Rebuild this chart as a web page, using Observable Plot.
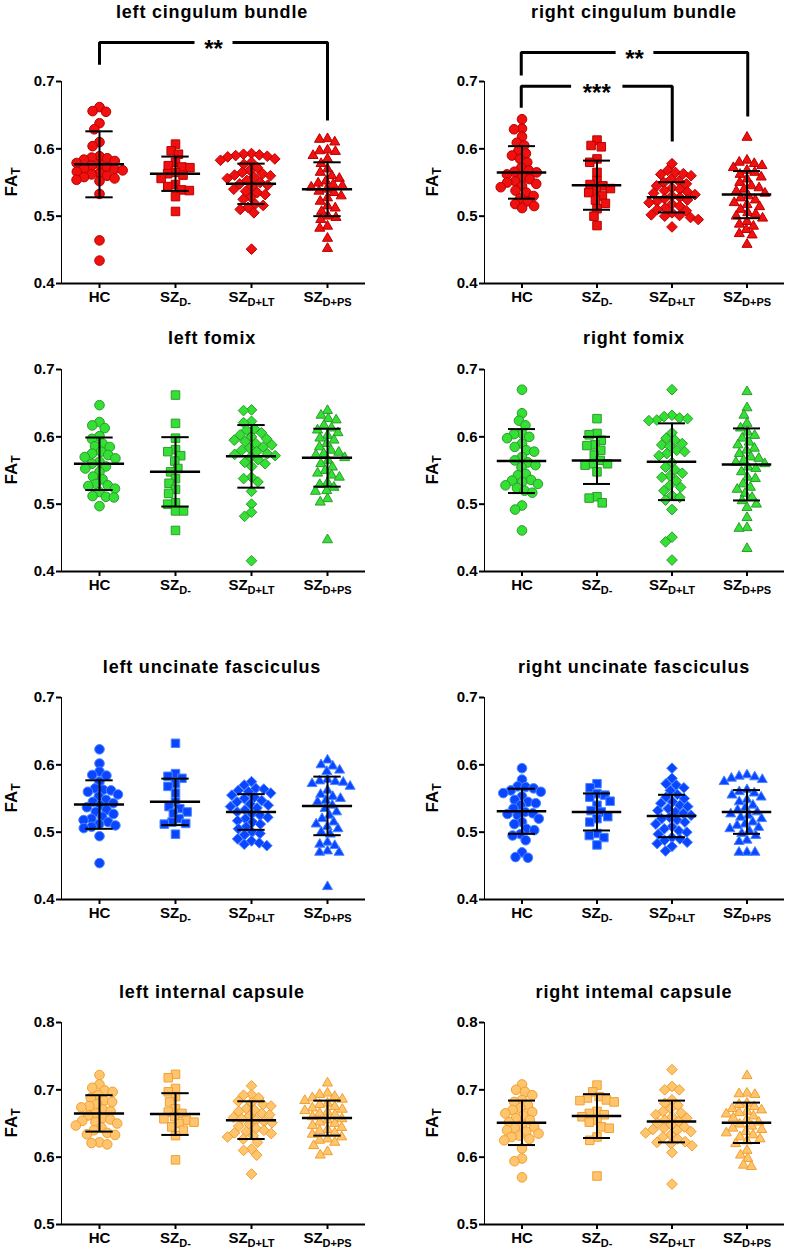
<!DOCTYPE html>
<html><head><meta charset="utf-8">
<script src="https://cdn.jsdelivr.net/npm/d3@7"></script>
<script src="https://cdn.jsdelivr.net/npm/@observablehq/plot@0.6"></script>
<style>
body{margin:0;background:#fff;font-family:"Liberation Sans",Arial,Helvetica,sans-serif;}
#root{position:relative;width:790px;height:1252px;overflow:hidden;background:#fff;}
.title{position:absolute;font-weight:bold;font-size:18px;letter-spacing:0.8px;transform:translate(-50%,-50%);white-space:nowrap;color:#000;}
.ylab{position:absolute;font-weight:bold;font-size:17px;transform:translate(-50%,-50%) rotate(-90deg);white-space:nowrap;color:#000;}
.ylab sub{font-size:12px;vertical-align:-3px;}
.panel{position:absolute;}
.panel svg{position:absolute;left:0;top:0;overflow:visible;}
.panel g[aria-label*="axis"] path,.panel g[aria-label*="axis"] line{stroke-width:2px;}
</style></head><body><div id="root"></div>
<script>
// ---------- categories / labels ----------
const groups = ["HC", "SZD-", "SZD+LT", "SZD+PS"];
const groupBase = ["HC", "SZ", "SZ", "SZ"];
const groupSub = ["", "D-", "D+LT", "D+PS"];
const titles = ["left cingulum bundle", "right cingulum bundle", "left fomix", "right fomix",
  "left uncinate fasciculus", "right uncinate fasciculus", "left internal capsule", "right intemal capsule"];
const yTicksFA = [0.4, 0.5, 0.6, 0.7];
const yTicksIC = [0.5, 0.6, 0.7, 0.8];

// ---------- values (HC, SZD-, SZD+LT, SZD+PS) ----------
const leftCingulum = [
  [0.662,0.656,0.655,0.638,0.629,0.610,0.604,0.589,0.587,0.586,0.584,0.582,0.579,0.577,0.575,0.573,0.571,0.570,0.568,0.566,0.564,0.562,0.560,0.558,0.556,0.554,0.552,0.533,0.464,0.434],
  [0.607,0.597,0.592,0.580,0.575,0.573,0.572,0.565,0.563,0.561,0.556,0.547,0.544,0.539,0.538,0.529,0.507],
  [0.593,0.592,0.591,0.590,0.589,0.588,0.585,0.583,0.580,0.577,0.572,0.568,0.565,0.563,0.561,0.560,0.558,0.556,0.553,0.550,0.548,0.546,0.544,0.540,0.537,0.535,0.532,0.528,0.525,0.518,0.516,0.513,0.510,0.505,0.451],
  [0.615,0.614,0.610,0.598,0.597,0.596,0.590,0.585,0.578,0.570,0.565,0.560,0.556,0.552,0.549,0.547,0.545,0.543,0.540,0.537,0.535,0.530,0.527,0.522,0.515,0.512,0.507,0.500,0.498,0.495,0.485,0.482,0.467,0.452]
];
const leftCingulumMean = [0.577, 0.563, 0.548, 0.540];
const leftCingulumSD = [0.049, 0.0255, 0.030, 0.040];

const rightCingulum = [
  [0.644,0.630,0.629,0.618,0.609,0.605,0.597,0.593,0.590,0.585,0.580,0.572,0.568,0.566,0.565,0.562,0.558,0.555,0.552,0.550,0.548,0.545,0.543,0.538,0.535,0.530,0.527,0.522,0.518,0.515,0.512],
  [0.613,0.605,0.603,0.585,0.580,0.565,0.553,0.547,0.545,0.541,0.538,0.535,0.530,0.524,0.519,0.511,0.500,0.486],
  [0.578,0.568,0.565,0.563,0.562,0.560,0.555,0.552,0.550,0.548,0.545,0.542,0.540,0.538,0.536,0.534,0.532,0.530,0.528,0.526,0.524,0.522,0.520,0.518,0.515,0.512,0.510,0.508,0.505,0.502,0.501,0.500,0.498,0.495,0.484],
  [0.617,0.583,0.580,0.578,0.575,0.572,0.568,0.565,0.562,0.558,0.555,0.550,0.545,0.542,0.540,0.537,0.534,0.530,0.527,0.524,0.520,0.517,0.514,0.510,0.505,0.503,0.500,0.497,0.492,0.488,0.485,0.480,0.474,0.472,0.458]
];
const rightCingulumMean = [0.565, 0.546, 0.528, 0.532];
const rightCingulumSD = [0.039, 0.0365, 0.0225, 0.035];

const leftFornix = [
  [0.647,0.622,0.617,0.613,0.601,0.597,0.590,0.586,0.585,0.578,0.575,0.573,0.570,0.568,0.563,0.560,0.556,0.553,0.548,0.541,0.537,0.530,0.528,0.527,0.523,0.518,0.512,0.511,0.510,0.497],
  [0.662,0.620,0.598,0.581,0.578,0.572,0.564,0.553,0.548,0.538,0.531,0.522,0.516,0.502,0.500,0.490,0.490,0.461],
  [0.640,0.639,0.623,0.621,0.612,0.610,0.606,0.603,0.600,0.597,0.595,0.593,0.590,0.588,0.585,0.583,0.580,0.578,0.575,0.574,0.572,0.570,0.566,0.562,0.560,0.556,0.540,0.538,0.533,0.519,0.500,0.488,0.482,0.416],
  [0.639,0.632,0.627,0.625,0.617,0.613,0.610,0.606,0.602,0.598,0.595,0.590,0.585,0.580,0.577,0.575,0.573,0.569,0.565,0.560,0.555,0.550,0.546,0.543,0.540,0.532,0.529,0.525,0.520,0.519,0.508,0.503,0.447]
];
const leftFornixMean = [0.560, 0.548, 0.571, 0.569];
const leftFornixSD = [0.039, 0.0515, 0.0465, 0.043];

const rightFornix = [
  [0.670,0.635,0.624,0.617,0.605,0.604,0.600,0.598,0.590,0.585,0.580,0.578,0.570,0.565,0.562,0.558,0.555,0.545,0.543,0.536,0.535,0.533,0.530,0.528,0.524,0.520,0.517,0.498,0.492,0.461],
  [0.627,0.605,0.603,0.595,0.588,0.587,0.580,0.573,0.565,0.560,0.560,0.558,0.548,0.511,0.509,0.502],
  [0.670,0.632,0.630,0.628,0.627,0.625,0.624,0.606,0.598,0.595,0.590,0.588,0.586,0.580,0.578,0.575,0.572,0.562,0.555,0.551,0.546,0.542,0.540,0.535,0.528,0.525,0.520,0.513,0.510,0.506,0.492,0.451,0.444,0.417],
  [0.667,0.643,0.632,0.620,0.613,0.607,0.602,0.598,0.592,0.588,0.583,0.580,0.575,0.570,0.568,0.565,0.562,0.560,0.555,0.553,0.548,0.540,0.538,0.530,0.525,0.522,0.516,0.510,0.505,0.500,0.495,0.480,0.465,0.464,0.434]
];
const rightFornixMean = [0.564, 0.565, 0.563, 0.559];
const rightFornixSD = [0.0475, 0.035, 0.057, 0.0535];

const leftUncinate = [
  [0.623,0.602,0.590,0.585,0.584,0.575,0.565,0.563,0.562,0.560,0.556,0.553,0.548,0.545,0.543,0.540,0.537,0.533,0.530,0.527,0.523,0.520,0.518,0.515,0.512,0.510,0.508,0.506,0.494,0.454],
  [0.632,0.587,0.583,0.580,0.572,0.568,0.558,0.545,0.538,0.535,0.530,0.528,0.520,0.515,0.513,0.512,0.497],
  [0.575,0.570,0.565,0.564,0.562,0.560,0.558,0.555,0.552,0.550,0.547,0.545,0.542,0.540,0.538,0.536,0.533,0.530,0.527,0.525,0.522,0.520,0.517,0.515,0.512,0.508,0.505,0.500,0.498,0.496,0.490,0.487,0.484,0.482,0.480],
  [0.607,0.600,0.598,0.592,0.590,0.578,0.576,0.575,0.574,0.572,0.568,0.562,0.556,0.553,0.550,0.547,0.545,0.540,0.535,0.530,0.525,0.520,0.515,0.512,0.508,0.505,0.500,0.497,0.485,0.482,0.480,0.472,0.470,0.470,0.419]
];
const leftUncinateMean = [0.541, 0.545, 0.530, 0.539];
const leftUncinateSD = [0.036, 0.0345, 0.0265, 0.0435];

const rightUncinate = [
  [0.595,0.578,0.568,0.567,0.565,0.562,0.560,0.558,0.553,0.548,0.545,0.543,0.540,0.535,0.530,0.528,0.527,0.525,0.520,0.515,0.512,0.505,0.503,0.497,0.495,0.488,0.470,0.463,0.462],
  [0.572,0.566,0.557,0.555,0.552,0.546,0.540,0.532,0.530,0.523,0.520,0.515,0.498,0.495,0.492,0.481],
  [0.595,0.580,0.572,0.570,0.566,0.562,0.556,0.552,0.550,0.545,0.543,0.540,0.538,0.535,0.532,0.530,0.528,0.525,0.522,0.520,0.518,0.515,0.512,0.508,0.505,0.502,0.500,0.497,0.492,0.490,0.488,0.485,0.483,0.479,0.472],
  [0.585,0.583,0.582,0.580,0.578,0.575,0.563,0.560,0.558,0.555,0.552,0.548,0.545,0.540,0.536,0.533,0.530,0.527,0.525,0.522,0.520,0.515,0.512,0.510,0.507,0.505,0.502,0.498,0.495,0.488,0.486,0.470,0.470,0.470]
];
const rightUncinateMean = [0.531, 0.530, 0.524, 0.530];
const rightUncinateSD = [0.0335, 0.0275, 0.0315, 0.0325];

const leftCapsule = [
  [0.722,0.708,0.703,0.699,0.697,0.692,0.688,0.684,0.682,0.679,0.676,0.674,0.671,0.668,0.665,0.662,0.658,0.656,0.654,0.652,0.650,0.647,0.644,0.640,0.636,0.634,0.633,0.622,0.621,0.619],
  [0.723,0.718,0.702,0.697,0.690,0.682,0.672,0.667,0.665,0.660,0.657,0.655,0.652,0.650,0.645,0.640,0.632,0.596],
  [0.706,0.693,0.692,0.688,0.683,0.681,0.678,0.676,0.672,0.670,0.668,0.665,0.663,0.661,0.659,0.657,0.655,0.653,0.651,0.649,0.646,0.643,0.640,0.638,0.636,0.635,0.632,0.630,0.627,0.622,0.612,0.610,0.603,0.575],
  [0.710,0.695,0.693,0.690,0.688,0.686,0.684,0.680,0.678,0.675,0.673,0.671,0.669,0.667,0.665,0.663,0.660,0.657,0.655,0.652,0.650,0.647,0.644,0.641,0.639,0.636,0.634,0.630,0.627,0.625,0.622,0.617,0.608,0.603]
];
const leftCapsuleMean = [0.665, 0.664, 0.655, 0.658];
const leftCapsuleSD = [0.027, 0.031, 0.028, 0.026];

const rightCapsule = [
  [0.708,0.700,0.697,0.692,0.685,0.682,0.677,0.673,0.670,0.667,0.665,0.662,0.658,0.655,0.652,0.648,0.645,0.643,0.640,0.638,0.635,0.632,0.630,0.627,0.625,0.613,0.598,0.594,0.570],
  [0.707,0.697,0.690,0.688,0.685,0.684,0.682,0.668,0.665,0.663,0.660,0.655,0.652,0.645,0.643,0.630,0.625,0.572],
  [0.730,0.705,0.700,0.700,0.685,0.680,0.677,0.672,0.668,0.666,0.663,0.660,0.658,0.655,0.653,0.651,0.648,0.645,0.643,0.641,0.640,0.638,0.636,0.633,0.630,0.627,0.623,0.622,0.620,0.617,0.607,0.560],
  [0.721,0.695,0.694,0.693,0.680,0.678,0.675,0.672,0.670,0.668,0.666,0.664,0.661,0.658,0.655,0.652,0.649,0.646,0.643,0.641,0.638,0.636,0.633,0.630,0.627,0.624,0.620,0.610,0.603,0.598,0.588,0.586]
];
const rightCapsuleMean = [0.651, 0.661, 0.653, 0.651];
const rightCapsuleSD = [0.033, 0.0325, 0.031, 0.030];

// ---------- significance brackets ----------
const leftCingulumBrackets = [
  {from: "HC", to: "SZD+PS", level: 0.758, fromEnd: 0.725, toEnd: 0.642, label: "**"}
];
const rightCingulumBrackets = [
  {from: "HC", to: "SZD+PS", level: 0.743, fromEnd: 0.709, toEnd: 0.648, label: "**"},
  {from: "HC", to: "SZD+LT", level: 0.693, fromEnd: 0.661, toEnd: 0.611, label: "***"}
];

// ---------- styling ----------
const FONT = '"Liberation Sans", Arial, Helvetica, sans-serif';
const symbols = ["circle", "square", "diamond2", "triangle2"];
const red = {fill: "#f01010", stroke: "#b80000"};
const green = {fill: "#33e033", stroke: "#2f9a2f"};
const blue = {fill: "#0a46ff", stroke: "#4a86ff"};
const orange = {fill: "#ffc56e", stroke: "#f0a030"};

const rowTop = [81, 369, 697, 1022];
const titleY = [12, 338, 667, 992];
const titleX = [212, 634];
const labX = [12, 433];

const panels = [
  {values: leftCingulum, mean: leftCingulumMean, sd: leftCingulumSD, dom: [0.4, 0.7], ticks: yTicksFA, color: red, brackets: leftCingulumBrackets},
  {values: rightCingulum, mean: rightCingulumMean, sd: rightCingulumSD, dom: [0.4, 0.7], ticks: yTicksFA, color: red, brackets: rightCingulumBrackets},
  {values: leftFornix, mean: leftFornixMean, sd: leftFornixSD, dom: [0.4, 0.7], ticks: yTicksFA, color: green},
  {values: rightFornix, mean: rightFornixMean, sd: rightFornixSD, dom: [0.4, 0.7], ticks: yTicksFA, color: green},
  {values: leftUncinate, mean: leftUncinateMean, sd: leftUncinateSD, dom: [0.4, 0.7], ticks: yTicksFA, color: blue},
  {values: rightUncinate, mean: rightUncinateMean, sd: rightUncinateSD, dom: [0.4, 0.7], ticks: yTicksFA, color: blue},
  {values: leftCapsule, mean: leftCapsuleMean, sd: leftCapsuleSD, dom: [0.5, 0.8], ticks: yTicksIC, color: orange},
  {values: rightCapsule, mean: rightCapsuleMean, sd: rightCapsuleSD, dom: [0.5, 0.8], ticks: yTicksIC, color: orange}
];

const root = document.getElementById("root");

function subscriptTicks(svg) {
  d3.select(svg).selectAll("text").each(function () {
    const i = groups.indexOf(this.textContent);
    if (i < 0) return;
    const t = d3.select(this);
    t.text(null);
    t.append("tspan").text(groupBase[i]);
    if (groupSub[i]) t.append("tspan").attr("font-size", 11).attr("dy", 4).text(groupSub[i]);
  });
}

panels.forEach((p, idx) => {
  const col = idx % 2, row = Math.floor(idx / 2);
  const W = 395, MT = 60, MB = 42, FH = 202;
  const ML = col === 0 ? 61 : 88;
  const MR = col === 0 ? 30 : 5;
  const H = MT + FH + MB;
  const div = document.createElement("div");
  div.className = "panel";
  div.style.left = (col * 395) + "px";
  div.style.top = (rowTop[row] - MT) + "px";
  div.style.width = W + "px";
  div.style.height = H + "px";
  root.appendChild(div);

  const rows = p.values.flatMap((arr, i) => arr.map(v => ({group: groups[i], v})));
  const stats = groups.map((g, i) => ({group: g, mean: p.mean[i], lo: p.mean[i] - p.sd[i], hi: p.mean[i] + p.sd[i]}));

  const svg = Plot.plot({
    width: W, height: H, marginTop: MT, marginBottom: MB, marginLeft: ML, marginRight: MR,
    style: {background: "transparent", color: "#000", fontFamily: FONT, fontWeight: "bold", fontSize: "15px", overflow: "visible"},
    fx: {domain: groups, padding: 0, axis: "bottom", label: null, tickSize: 5, tickPadding: 3},
    x: {domain: [-1, 1], axis: null},
    y: {domain: p.dom, ticks: p.ticks, tickFormat: d3.format(".1f"), label: null, line: true, tickSize: 5, tickPadding: 2},
    symbol: {domain: groups, range: symbols},
    marks: [
      Plot.ruleY([p.dom[0]], {stroke: "#000", strokeWidth: 2}),
      Plot.dot(rows, Plot.dodgeX({anchor: "middle", padding: -1.6}, {fx: "group", y: "v", symbol: "group", r: 4.8, fill: p.color.fill, stroke: p.color.stroke, strokeWidth: 1})),
      Plot.ruleX(stats, {fx: "group", x: 0, y1: "lo", y2: "hi", stroke: "#000", strokeWidth: 2}),
      Plot.ruleY(stats, {fx: "group", y: "lo", x1: -0.36, x2: 0.36, stroke: "#000", strokeWidth: 2}),
      Plot.ruleY(stats, {fx: "group", y: "hi", x1: -0.36, x2: 0.36, stroke: "#000", strokeWidth: 2}),
      Plot.ruleY(stats, {fx: "group", y: "mean", x1: -0.66, x2: 0.66, stroke: "#000", strokeWidth: 2.5})
    ]
  });
  subscriptTicks(svg);
  div.appendChild(svg);

  if (p.brackets) {
    const segs = [], labels = [];
    p.brackets.forEach((b, k) => {
      const a = groups.indexOf(b.from), c = groups.indexOf(b.to), m = (a + c) / 2;
      const h = 0.07 + 0.09 * b.label.length;
      segs.push({k: k + "L", x: a, y: b.fromEnd}, {k: k + "L", x: a, y: b.level}, {k: k + "L", x: m - h, y: b.level});
      segs.push({k: k + "R", x: m + h, y: b.level}, {k: k + "R", x: c, y: b.level}, {k: k + "R", x: c, y: b.toEnd});
      labels.push({x: m, y: b.level, label: b.label});
    });
    const over = Plot.plot({
      width: W, height: H, marginTop: MT, marginBottom: MB, marginLeft: ML, marginRight: MR,
      style: {background: "transparent", color: "#000", fontFamily: FONT, fontWeight: "bold", overflow: "visible"},
      x: {domain: [-0.5, 3.5], axis: null},
      y: {domain: p.dom, axis: null},
      marks: [
        Plot.line(segs, {x: "x", y: "y", z: "k", stroke: "#000", strokeWidth: 3, strokeLinejoin: "miter", strokeLinecap: "butt"}),
        Plot.text(labels, {x: "x", y: "y", text: "label", fontSize: 24, fontWeight: "bold", dy: 7})
      ]
    });
    div.appendChild(over);
  }

  const t = document.createElement("div");
  t.className = "title";
  t.textContent = titles[idx];
  t.style.left = titleX[col] + "px";
  t.style.top = titleY[row] + "px";
  root.appendChild(t);

  const yl = document.createElement("div");
  yl.className = "ylab";
  yl.innerHTML = "FA<sub>T</sub>";
  yl.style.left = labX[col] + "px";
  yl.style.top = (rowTop[row] + FH / 2) + "px";
  root.appendChild(yl);
});
</script>
</body></html>
